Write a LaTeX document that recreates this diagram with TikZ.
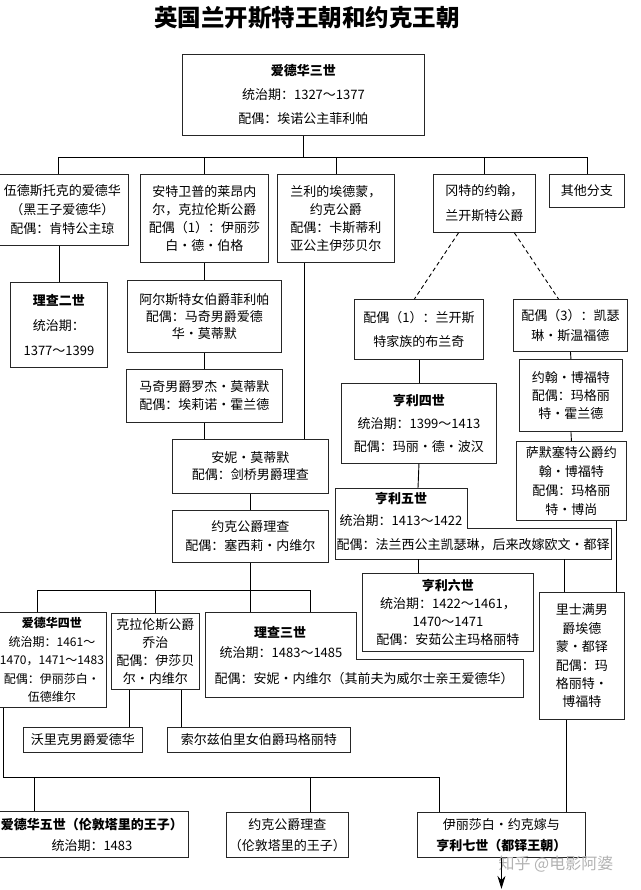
\documentclass[tikz,border=0pt]{standalone}
\usepackage{fontspec}
\setmainfont{Noto Sans CJK SC}
\usetikzlibrary{arrows.meta}

\begin{document}
\begin{tikzpicture}[>={Stealth[length=13pt,width=8pt]}, x=1pt, y=-1pt, line width=0.9pt,
	box/.style={draw=black!85, align=center, inner sep=0pt, anchor=north west, font=\fontsize{13}{#1}\selectfont},
	box/.default=18,
	txt/.style={inner sep=0pt, font=\fontsize{13}{18}\selectfont}]
	\useasboundingbox (0,0) rectangle (640,890);
		\node[font=\fontsize{23.5}{24}\selectfont\bfseries] (title) at (307,18) {英国兰开斯特王朝和约克王朝};
		\node[box=24, minimum width=242pt, minimum height=81pt] (edw3) at (182,54) {\textbf{爱德华三世}\\统治期：1327～1377\\配偶：埃诺公主菲利帕};
		\node[box=19, minimum width=132pt, minimum height=71pt] (bprince) at (-4,174) {伍德斯托克的爱德华\\（黑王子爱德华）\\配偶：肯特公主琼};
		\node[box, minimum width=128pt, minimum height=88pt] (lionel) at (140,174) {安特卫普的莱昂内\\尔，克拉伦斯公爵\\配偶（1）：伊丽莎\\白·德·伯格};
		\node[box, minimum width=117pt, minimum height=88pt] (edmund) at (277,174) {兰利的埃德蒙，\\约克公爵\\配偶：卡斯蒂利\\亚公主伊莎贝尔};
		\node[box=25, minimum width=102pt, minimum height=58pt] (gaunt) at (433,174) {冈特的约翰，\\兰开斯特公爵};
		\node[box, minimum width=75pt, minimum height=33pt] (others) at (549,174) {其他分支};
		\node[box=25, minimum width=97pt, minimum height=85pt] (rich2) at (10,282) {\textbf{理查二世}\\统治期：\\1377～1399};
		\node[box=17, minimum width=154pt, minimum height=72pt] (philippa) at (127,280) {阿尔斯特女伯爵菲利帕\\配偶：马奇男爵爱德\\华·莫蒂默};
		\node[box=24, minimum width=129pt, minimum height=60pt] (blanche) at (354,299) {配偶（1）：兰开斯\\特家族的布兰奇};
		\node[box=20, minimum width=114pt, minimum height=52pt] (kath) at (513,299) {配偶（3）：凯瑟\\琳·斯温福德};
		\node[box, minimum width=103pt, minimum height=72pt] (jbeau) at (519,359) {约翰·博福特\\配偶：玛格丽\\特·霍兰德};
		\node[box, minimum width=156pt, minimum height=53pt] (roger) at (126,369) {马奇男爵罗杰·莫蒂默\\配偶：埃莉诺·霍兰德};
		\node[box=23, minimum width=155pt, minimum height=80pt] (hen4) at (341,383) {\textbf{亨利四世}\\统治期：1399～1413\\配偶：玛丽·德·波汉};
		\node[box=17, minimum width=156pt, minimum height=54pt] (anne) at (172,439) {安妮·莫蒂默\\配偶：剑桥男爵理查};
		\node[box=19, minimum width=110pt, minimum height=79pt] (somerset) at (516,441) {萨默塞特公爵约\\翰·博福特\\配偶：玛格丽\\特·博尚};
		\node[box=19, minimum width=156pt, minimum height=52pt] (ryork) at (172,510) {约克公爵理查\\配偶：塞西莉·内维尔};
		\draw[draw=black!85] (335,488) -- (467,488) -- (467,528) -- (611,528) -- (611,559) -- (335,559) -- cycle;
		\node[txt] (hen5) at (401,498) {\textbf{亨利五世}};
		\node[txt] (hen5a) at (401,521) {统治期：1413～1422};
		\node[txt] (hen5b) at (473,545) {配偶：法兰西公主凯瑟琳，后来改嫁欧文·都铎};
		\coordinate (hen5n) at (418,488);
		\coordinate (hen5s) at (418,559);
		\coordinate (hen5t) at (564,559);
		\node[box, minimum width=171pt, minimum height=78pt] (hen6) at (362,573) {\textbf{亨利六世}\\统治期：1422～1461，\\1470～1471\\配偶：安茹公主玛格丽特};
		\node[box=18.4, minimum width=85pt, minimum height=127pt] (tudor) at (539,592) {里士满男\\爵埃德\\蒙·都铎\\配偶：玛\\格丽特·\\博福特};
		\node[box=18.5, minimum width=109pt, minimum height=95pt, font=\fontsize{12}{18.5}\selectfont] (edw4) at (-3,612) {\textbf{爱德华四世}\\统治期：1461～\\1470，1471～1483\\配偶：伊丽莎白·\\伍德维尔};
		\node[box, minimum width=88pt, minimum height=76pt] (george) at (111,613) {克拉伦斯公爵\\乔治\\配偶：伊莎贝\\尔·内维尔};
		\draw[draw=black!85] (205,612) -- (356,612) -- (356,659) -- (523,659) -- (523,697) -- (205,697) -- cycle;
		\node[txt] (rich3) at (280,632) {\textbf{理查三世}};
		\node[txt] (rich3a) at (281,653) {统治期：1483～1485};
		\node[txt] (rich3b) at (364,679) {配偶：安妮·内维尔（其前夫为威尔士亲王爱德华）};
		\coordinate (rich3n) at (310,612);
		\node[box, minimum width=119pt, minimum height=25pt] (warwick) at (23,727) {沃里克男爵爱德华};
		\node[box, minimum width=183pt, minimum height=25pt] (salis) at (167,727) {索尔兹伯里女伯爵玛格丽特};
		\node[box=21, minimum width=193pt, minimum height=46pt] (edw5) at (-5,811) {\textbf{爱德华五世（伦敦塔里的王子）}\\统治期：1483};
		\node[box=21, minimum width=122pt, minimum height=45pt] (ryorkp) at (226,812) {约克公爵理查\\（伦敦塔里的王子）};
		\node[box=21, minimum width=168pt, minimum height=45pt] (hen7) at (417,812) {伊丽莎白·约克嫁与\\\textbf{亨利七世（都铎王朝）}};
		\node[text=black!30, font=\fontsize{16}{16}\selectfont] (mark) at (556,864) {知乎 @电影阿婆};
		\coordinate (bar1) at (0,157);
		\coordinate (bar2) at (0,590);
		\coordinate (bar3) at (0,777);
		\draw (edw3.south) -- (edw3.south |- bar1);
		\draw ([xshift=-4pt]bprince.north) |- (others.north |- bar1) -- (others.north);
		\foreach \n in {lionel,edmund,gaunt} \draw (\n.north) -- (\n.north |- bar1);
		\draw (rich2.north) -- (rich2.north |- bprince.south);
		\draw (lionel.south) -- (philippa.north);
		\draw (philippa.south) -- (roger.north);
		\draw (roger.south) -- (roger.south |- anne.north);
		\draw ([xshift=-32pt]edmund.south) -- ([xshift=-32pt]edmund.south |- anne.north);
		\draw (anne.south) -- (ryork.north);
		\draw (ryork.south) -- (ryork.south |- rich3n);
		\draw ([xshift=-14.5pt]edw4.north) |- (rich3n |- bar2) -- (rich3n);
		\draw (george.north) -- (george.north |- bar2);
		\draw[dash pattern=on 4pt off 3pt] ([xshift=-26pt]gaunt.south) -- ([xshift=-4.5pt]blanche.north);
		\draw[dash pattern=on 4pt off 3pt] ([xshift=30pt]gaunt.south) -- ([xshift=-12pt]kath.north);
		\draw (blanche.south) -- (hen4.north);
		\draw (hen4.south) -- (hen5n);
		\draw (hen5s) -- (hen5s |- hen6.north);
		\draw (hen5t) -- (hen5t |- tudor.north);
		\draw (kath.south) -- (jbeau.north);
		\draw (jbeau.south) -- (somerset.north);
		\draw ([xshift=45pt]somerset.south) -- ([xshift=45pt]somerset.south |- tudor.north);
		\draw ([xshift=-26pt]george.south) -- ([xshift=-26pt]george.south |- warwick.north);
		\draw ([xshift=26pt]george.south) -- ([xshift=26pt]george.south |- salis.north);
		\draw ([xshift=-48.5pt]edw4.south) |- ([xshift=-62pt]hen7.north |- bar3) -- ([xshift=-62pt]hen7.north);
		\draw ([xshift=-57.5pt]edw5.north) -- ([xshift=-57.5pt]edw5.north |- bar3);
		\draw ([xshift=23pt]ryorkp.north) -- ([xshift=23pt]ryorkp.north |- bar3);
		\draw ([xshift=-15.5pt]tudor.south) -- ([xshift=-15.5pt]tudor.south |- hen7.north);
		\draw[->] (hen7.south) -- ++(0,31);
	\end{tikzpicture}
\end{document}
